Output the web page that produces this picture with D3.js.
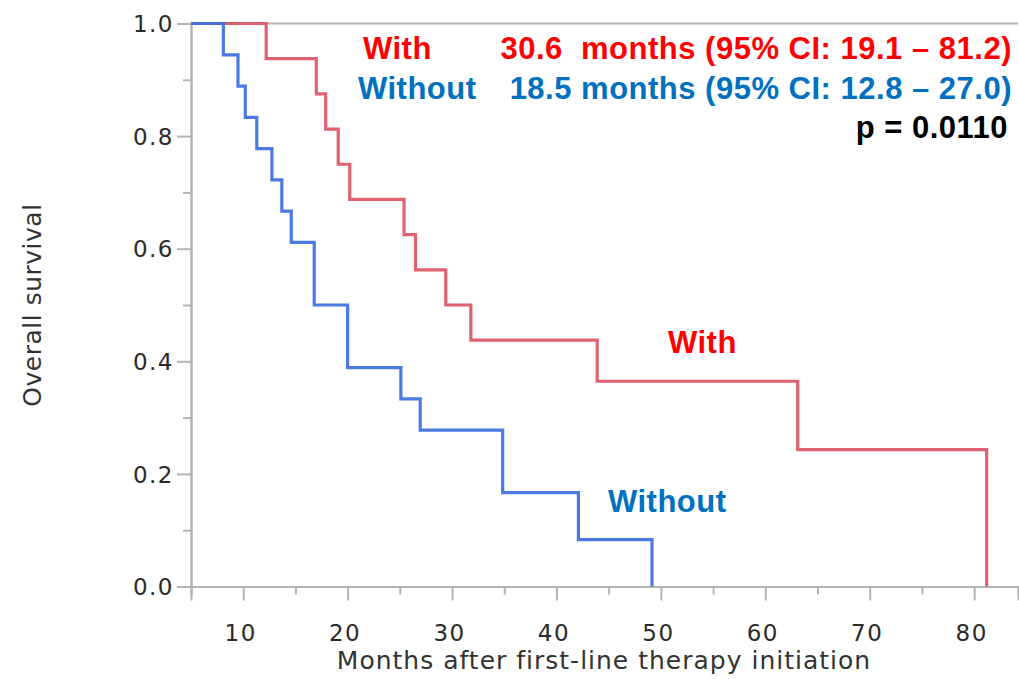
<!DOCTYPE html>
<html>
<head>
<meta charset="utf-8">
<script src="https://d3js.org/d3.v7.min.js"></script>
<style>
  body { margin: 0; background: #fff; }
  svg { display: block; }
  .tick text { font-family: "DejaVu Sans", sans-serif; font-size: 23px; letter-spacing: 1.5px; fill: #2a2a2a; }
  .ann { font-family: "Liberation Sans", Arial, sans-serif; font-weight: bold; font-size: 31px; white-space: pre; letter-spacing: 0.5px; }
  .title { font-family: "DejaVu Sans", sans-serif; font-size: 25px; letter-spacing: 1px; fill: #333; }
</style>
</head>
<body>
<svg width="1019" height="679"></svg>
<script>
// Kaplan-Meier estimates (months, survival)
const withTimes = [0, 12.2, 17.0, 17.9, 19.1, 20.2, 25.4, 26.5, 29.4, 31.8, 43.9, 63.1, 81.2];
const withSurv  = [1, 0.9375, 0.875, 0.8125, 0.75, 0.6875, 0.625, 0.5625, 0.5, 0.4375, 0.3646, 0.2431, 0];

const withoutTimes = [0, 8.1, 9.5, 10.2, 11.3, 12.75, 13.7, 14.6, 16.8, 20.0, 25.1, 26.95, 34.85, 42.1, 49.15];
const withoutSurv  = [1, 0.9444, 0.8889, 0.8333, 0.7778, 0.7222, 0.6667, 0.6111, 0.5, 0.3889, 0.3333, 0.2778, 0.1667, 0.0833, 0];

const xTicks = [10, 20, 30, 40, 50, 60, 70, 80];
const xMinorTicks = [5, 15, 25, 35, 45, 55, 65, 75];
const yTicks = [0, 0.2, 0.4, 0.6, 0.8, 1.0];
const yMinorTicks = [0.1, 0.3, 0.5, 0.7, 0.9];

const medianLines = [
  {group: "With", text: "30.6  months (95% CI: 19.1 \u2013 81.2)", color: "#ff0000"},
  {group: "Without", text: "18.5 months (95% CI: 12.8 \u2013 27.0)", color: "#0070c0"}
];
const pText = "p = 0.0110";

const svg = d3.select("svg");
const mLeft = 191, mRight = 1018, mTop = 23.5, mBottom = 586.5;

const x = d3.scaleLinear().domain([5, 84.2]).range([mLeft, mRight]);
const y = d3.scaleLinear().domain([0, 1]).range([mBottom, mTop]);

const axisColor = "#b4b4b4";

// top frame line
svg.append("line")
  .attr("x1", mLeft).attr("x2", mRight)
  .attr("y1", y(1)).attr("y2", y(1))
  .attr("stroke", axisColor).attr("stroke-width", 2);

// minor + major ticks
const gx = svg.append("g").attr("transform", "translate(0," + mBottom + ")");
gx.call(d3.axisBottom(x).tickValues(xMinorTicks).tickSize(8).tickFormat(""));
const gx2 = svg.append("g").attr("transform", "translate(0," + mBottom + ")");
gx2.call(d3.axisBottom(x).tickValues(xTicks).tickSize(14).tickPadding(24).tickFormat(d3.format("d")));

const gy = svg.append("g").attr("transform", "translate(" + mLeft + ",0)");
gy.call(d3.axisLeft(y).tickValues(yMinorTicks).tickSize(8).tickFormat(""));
const gy2 = svg.append("g").attr("transform", "translate(" + mLeft + ",0)");
gy2.call(d3.axisLeft(y).tickValues(yTicks).tickSize(14).tickPadding(3).tickFormat(d3.format(".1f")));

svg.selectAll(".domain").attr("stroke", axisColor).attr("stroke-width", 2);
svg.selectAll(".tick line").attr("stroke", axisColor).attr("stroke-width", 2);
gx2.selectAll(".tick text").attr("dy", "0.71em").attr("dx", "-3");
gy2.selectAll(".tick text").attr("dy", "0.36em");

// axis titles
svg.append("text").attr("class", "title")
  .attr("x", 604).attr("y", 669)
  .attr("text-anchor", "middle")
  .text("Months after first-line therapy initiation");

svg.append("text").attr("class", "title")
  .attr("transform", "translate(41,305) rotate(-90)")
  .attr("text-anchor", "middle")
  .style("letter-spacing", "0.5px")
  .text("Overall survival");

// curves
svg.append("clipPath").attr("id", "plot")
  .append("rect").attr("x", mLeft).attr("y", 0).attr("width", mRight - mLeft).attr("height", mBottom + 2);

const line = d3.line()
  .x(d => x(d[0]))
  .y(d => y(d[1]))
  .curve(d3.curveStepAfter);

const curves = [
  {name: "With", values: d3.zip(withTimes, withSurv), color: "#dc5565"},
  {name: "Without", values: d3.zip(withoutTimes, withoutSurv), color: "#3e6fe0"}
];

svg.append("g").attr("clip-path", "url(#plot)")
  .selectAll("path")
  .data(curves)
  .enter().append("path")
  .attr("d", d => line(d.values))
  .attr("fill", "none")
  .attr("stroke", d => d.color)
  .attr("stroke-width", 3.2)
  .attr("stroke-opacity", 0.92);

// annotations
medianLines.forEach((m, i) => {
  const yy = 59 + i * 40;
  svg.append("text").attr("class", "ann")
    .attr("x", i === 0 ? 363 : 358).attr("y", yy)
    .style("fill", m.color)
    .text(m.group);
  svg.append("text").attr("class", "ann")
    .attr("x", 1012).attr("y", yy)
    .attr("text-anchor", "end")
    .style("fill", m.color)
    .text(m.text);
});

svg.append("text").attr("class", "ann")
  .attr("x", 1008).attr("y", 138)
  .attr("text-anchor", "end")
  .style("fill", "#000")
  .text(pText);

svg.append("text").attr("class", "ann")
  .attr("x", 668).attr("y", 353)
  .style("fill", "#ff0000")
  .text("With");

svg.append("text").attr("class", "ann")
  .attr("x", 608).attr("y", 512)
  .style("fill", "#0070c0")
  .text("Without");
</script>
</body>
</html>
